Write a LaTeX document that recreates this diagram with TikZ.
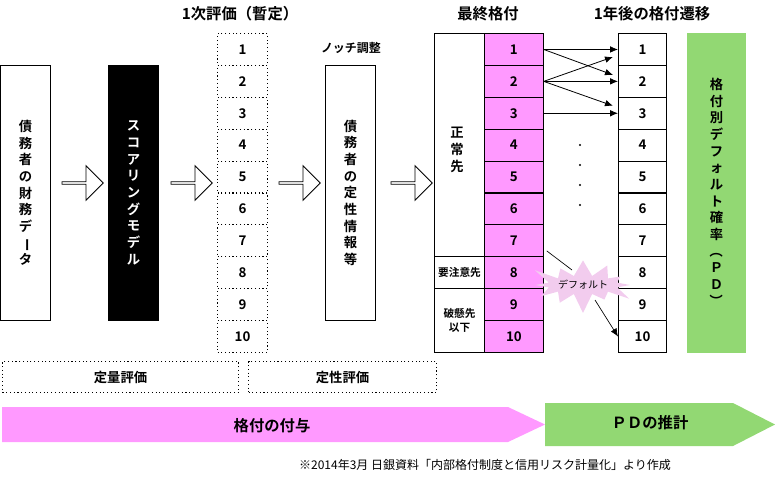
\documentclass[tikz,border=0pt]{standalone}
\usepackage{fontspec}
\setmainfont{Noto Sans CJK JP}[BoldFont=* Bold]
\usepackage{graphicx}
\usetikzlibrary{shapes.symbols,shapes.arrows,arrows.meta,calc}
\definecolor{pk}{HTML}{FF99FF}
\definecolor{gr}{HTML}{92D873}
\definecolor{st}{HTML}{F2CCEE}
\newcommand{\vb}{\rotatebox[origin=c]{-90}{ー}}
\newcommand{\vl}{\rotatebox[origin=c]{-90}{（}}
\newcommand{\vr}{\rotatebox[origin=c]{-90}{）}}
\begin{document}
\begin{tikzpicture}[x=0.75pt,y=-0.75pt,font=\bfseries\fontsize{10}{12.5}\selectfont,
 box/.style={draw,line width=0.8pt,minimum width=37.5pt,anchor=north west,inner sep=0pt,align=center},
 cell/.style={draw,line width=0.8pt,minimum width=#1,minimum height=23.9pt,anchor=north west,inner sep=0pt},
 hollow/.style={single arrow,draw,line width=0.6pt,fill=white,minimum height=31pt,minimum width=26pt,single arrow head extend=4pt,inner sep=0pt},
 ttl/.style={font=\bfseries\fontsize{11.5}{13}\selectfont},
 ar/.style={-{Latex[length=6pt,width=5pt]},line width=0.6pt}]
\useasboundingbox (0,0) rectangle (777,482);
% left boxes
\node[box,minimum height=191pt] (fin) at (0,65) {債\\務\\者\\の\\財\\務\\デ\\\vb\\タ};
\node[box,fill=black,text=white,minimum height=191pt] (sc) at (108,65) {ス\\コ\\ア\\リ\\ン\\グ\\モ\\デ\\ル};
\node[hollow] (a1) at (82,183) {};
\node[hollow] (a2) at (191,183) {};
\node[hollow] (a3) at (299,183) {};
\node[hollow] (a4) at (411,183) {};
% provisional column
\node[ttl] (t1) at (240,14) {1次評価（暫定）};
\foreach \i in {1,...,10}{
 \node[cell=37.5pt,draw=black,dotted,line width=0.8pt] (p\i) at (217,{33+(\i-1)*31.9}) {\i};}
\node[font=\bfseries\fontsize{9}{11}\selectfont] (notch) at (351,48) {ノッチ調整};
\node[box,minimum height=191pt] (qual) at (325,65) {債\\務\\者\\の\\定\\性\\情\\報\\等};
% final rating
\node[ttl] (t2) at (488,14) {最終格付};
\node[cell=37.5pt,minimum height=167.3pt] (norm) at (434,33) {};
\node[align=center] (normt) at (457,150) {正\\常\\先};
\node[cell=37.5pt,font=\bfseries\fontsize{8}{9}\selectfont] (att) at (434,256) {要注意先};
\node[cell=37.5pt,minimum height=47.8pt,font=\bfseries\fontsize{8}{11}\selectfont,align=center] (bank) at (434,288) {破懸先\\以下};
\foreach \i in {1,...,10}{
 \node[cell=44pt,fill=pk] (f\i) at (484,{33+(\i-1)*31.9}) {\i};
 \node[cell=36pt] (n\i) at (618,{33+(\i-1)*31.9}) {\i};}
\node[ttl] (t3) at (652,14) {1年後の格付遷移};
\node[box,fill=gr,draw=gr,minimum width=43.5pt,minimum height=239pt] (pd) at (687,33) {格\\付\\別\\デ\\フ\\ォ\\ル\\ト\\確\\率\\\vl\\Ｐ\\Ｄ\\\vr};
% transitions
\draw[ar] (f1.east) -- (n1.west);
\draw[ar] (f1.east) -- ($(n1.south west)+(-5,9)$);
\draw[ar] (f2.east) -- ($(n1.south west)+(-5,-9)$);
\draw[ar] (f2.east) -- (n2.west);
\draw[ar] (f2.east) -- ($(n2.south west)+(-5,8)$);
\draw[ar] (f3.east) -- (n3.west);
\foreach \y in {145,165,185,205} \fill (580,\y) circle (1.2);
\node[starburst,fill=st,starburst points=12,starburst point height=16pt,minimum width=60pt,minimum height=46pt,inner sep=0pt,font=\fontsize{7.5}{9}\selectfont] (def) at (583,285) {デフォルト};
\draw[line width=0.5pt] ($(f7.east)+(3,10)$) -- (572,270);
\draw[ar,line width=0.5pt] (595,300) -- (n10.west);
% bottom
\node[draw,dotted,line width=0.8pt,minimum width=177pt,minimum height=23.3pt,anchor=north west] (quant) at (2,361) {定量評価};
\node[draw,dotted,line width=0.8pt,minimum width=141pt,minimum height=23.3pt,anchor=north west] (qualv) at (248,361) {定性評価};
\fill[pk] (2,407) -- (508,407) -- (545,424.5) -- (508,442) -- (2,442) -- cycle;
\node[font=\bfseries\fontsize{11.5}{13}\selectfont] (rate) at (272,426) {格付の付与};
\fill[gr] (545,403) -- (733,403) -- (775,424.5) -- (733,446) -- (545,446) -- cycle;
\node[font=\bfseries\fontsize{11.5}{13}\selectfont] (pdest) at (650,423) {ＰＤの推計};
\node[font=\fontsize{9}{10}\selectfont] (src) at (485,465) {※2014年3月 日銀資料「内部格付制度と信用リスク計量化」より作成};
\end{tikzpicture}
\end{document}
